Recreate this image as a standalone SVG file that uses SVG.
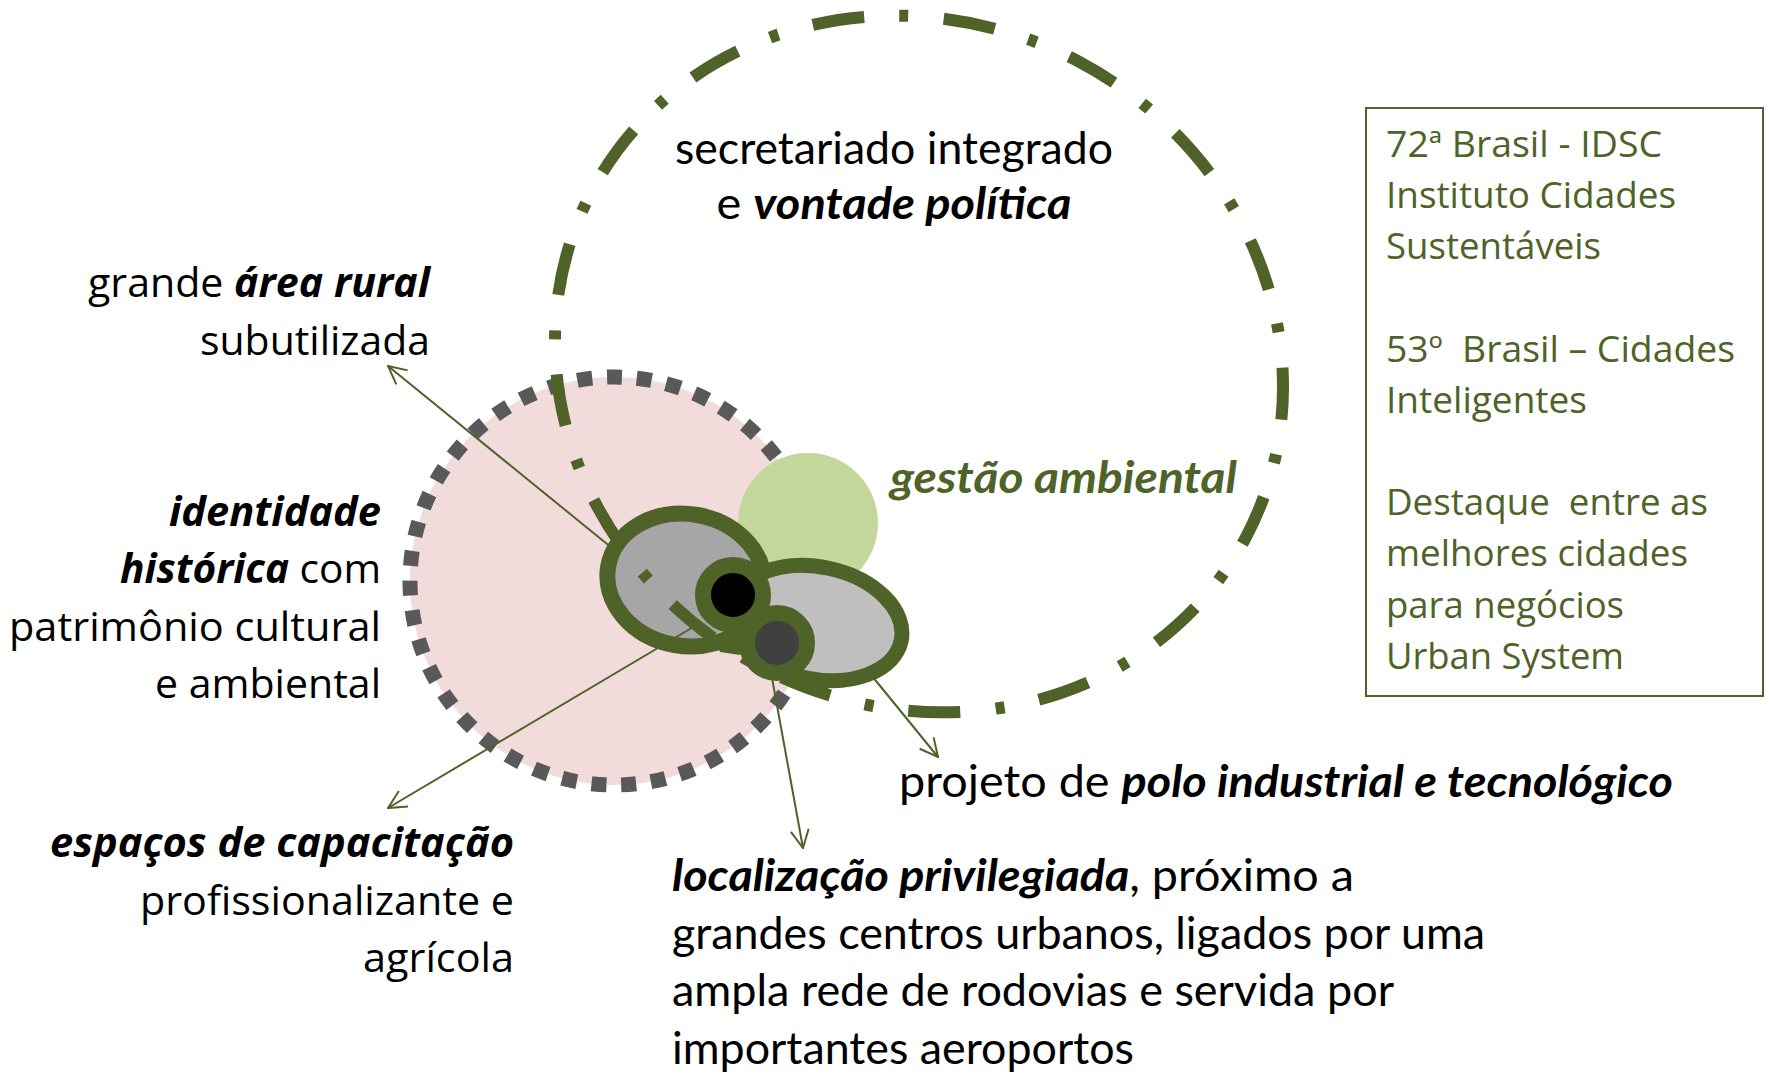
<svg xmlns="http://www.w3.org/2000/svg" width="1769" height="1076" viewBox="0 0 1769 1076">
<defs>
<style>
.t{font-family:"Lato","Liberation Sans",sans-serif;font-size:44px;fill:#000}
.s{font-family:"Open Sans","Noto Sans",sans-serif;font-size:41px;fill:#000}
.b{font-weight:bold;font-style:italic}
.gt{fill:#4F6228}
.box{font-family:"Open Sans","Noto Sans",sans-serif;font-size:36px;fill:#4F6228}
.conn{stroke:#4F6228;stroke-width:2;fill:none;marker-end:url(#arr)}
.ring{stroke:#4F6228;stroke-width:16}
.ell{stroke:#4F6228;stroke-width:16}
</style>
<marker id="arr" viewBox="0 0 20 20" markerWidth="20" markerHeight="20" refX="19" refY="10" orient="auto" markerUnits="userSpaceOnUse">
<path d="M1,1 L19,10 L1,19" fill="none" stroke="#4F6228" stroke-width="2"/>
</marker>
</defs>
<rect width="1769" height="1076" fill="#ffffff"/>

<g id="pink-area">
<circle cx="614" cy="581" r="204" fill="#F2DCDB" stroke="#595959" stroke-width="15" stroke-dasharray="15 14.81"/>
</g>
<g id="green-area">
<circle cx="808" cy="523" r="70" fill="#C4D79B"/>
</g>
<g id="ellipse-left">
<ellipse cx="686" cy="580" rx="79" ry="66" transform="rotate(10 686 580)" fill="#A6A6A6" class="ell"/>
</g>
<g id="big-circle">
<ellipse cx="919" cy="364" rx="370" ry="342" transform="rotate(28 919 364)" fill="none" stroke="#4F6228" stroke-width="12" stroke-dasharray="52 35 9 35.6" stroke-dashoffset="-86.6"/>
</g>
<g id="ellipse-right">
<polygon points="790,676 824,699 829,687 845,683" fill="#4F6228"/>
<ellipse cx="817" cy="623" rx="86" ry="56" transform="rotate(12 817 623)" fill="#BFBFBF" stroke="#4F6228" stroke-width="15"/>
<polygon points="713,638 740,627 753,640 740,655 720,652" fill="#4F6228"/>
</g>
<g id="ring-black">
<circle cx="733" cy="595" r="30" fill="#000000" class="ring"/>
</g>
<g id="ring-gray">
<circle cx="777" cy="643" r="30" fill="#404040" class="ring"/>
</g>

<g id="label-secretariado">
<text class="t" x="894" y="164" text-anchor="middle" textLength="438" lengthAdjust="spacingAndGlyphs">secretariado integrado</text>
<text class="t" x="894" y="219" text-anchor="middle" textLength="355" lengthAdjust="spacingAndGlyphs">e <tspan class="b">vontade política</tspan></text>
</g>
<g id="label-gestao">
<text class="t b gt" x="890" y="493" textLength="347" lengthAdjust="spacingAndGlyphs">gestão ambiental</text>
</g>
<g id="label-rural">
<text class="s" x="430" y="297" text-anchor="end" textLength="342" lengthAdjust="spacingAndGlyphs">grande <tspan class="b">área rural</tspan></text>
<text class="s" x="430" y="355" text-anchor="end" textLength="230" lengthAdjust="spacingAndGlyphs">subutilizada</text>
</g>
<g id="label-identidade">
<text class="s b" x="381" y="526" text-anchor="end" textLength="212" lengthAdjust="spacingAndGlyphs">identidade</text>
<text class="s" x="381" y="583" text-anchor="end" textLength="261" lengthAdjust="spacingAndGlyphs"><tspan class="b">histórica</tspan> com</text>
<text class="s" x="381" y="641" text-anchor="end" textLength="372" lengthAdjust="spacingAndGlyphs">patrimônio cultural</text>
<text class="s" x="381" y="698" text-anchor="end" textLength="226" lengthAdjust="spacingAndGlyphs">e ambiental</text>
</g>
<g id="label-espacos">
<text class="s b" x="514" y="857" text-anchor="end" textLength="464" lengthAdjust="spacingAndGlyphs">espaços de capacitação</text>
<text class="s" x="514" y="915" text-anchor="end" textLength="374" lengthAdjust="spacingAndGlyphs">profissionalizante e</text>
<text class="s" x="514" y="972" text-anchor="end" textLength="151" lengthAdjust="spacingAndGlyphs">agrícola</text>
</g>
<g id="label-polo">
<text class="t" x="899" y="797" textLength="774" lengthAdjust="spacingAndGlyphs">projeto de <tspan class="b">polo industrial e tecnológico</tspan></text>
</g>
<g id="label-localizacao">
<text class="t" x="672" y="891" textLength="682" lengthAdjust="spacingAndGlyphs"><tspan class="b">localização privilegiada</tspan>, próximo a</text>
<text class="t" x="672" y="949" textLength="813" lengthAdjust="spacingAndGlyphs">grandes centros urbanos, ligados por uma</text>
<text class="t" x="672" y="1006" textLength="722" lengthAdjust="spacingAndGlyphs">ampla rede de rodovias e servida por</text>
<text class="t" x="672" y="1064" textLength="462" lengthAdjust="spacingAndGlyphs">importantes aeroportos</text>
</g>
<g id="ranking-box">
<rect x="1366" y="108" width="397" height="588" fill="none" stroke="#4F6228" stroke-width="2"/>
<text class="box" x="1386" y="157" textLength="276" lengthAdjust="spacingAndGlyphs">72ª Brasil - IDSC</text>
<text class="box" x="1386" y="208" textLength="290" lengthAdjust="spacingAndGlyphs">Instituto Cidades</text>
<text class="box" x="1386" y="259" textLength="215" lengthAdjust="spacingAndGlyphs">Sustentáveis</text>
<text class="box" x="1386" y="362" textLength="349" lengthAdjust="spacingAndGlyphs" xml:space="preserve">53º  Brasil – Cidades</text>
<text class="box" x="1386" y="413" textLength="201" lengthAdjust="spacingAndGlyphs">Inteligentes</text>
<text class="box" x="1386" y="515" textLength="322" lengthAdjust="spacingAndGlyphs" xml:space="preserve">Destaque  entre as</text>
<text class="box" x="1386" y="566" textLength="302" lengthAdjust="spacingAndGlyphs">melhores cidades</text>
<text class="box" x="1386" y="618" textLength="238" lengthAdjust="spacingAndGlyphs">para negócios</text>
<text class="box" x="1386" y="669" textLength="238" lengthAdjust="spacingAndGlyphs">Urban System</text>
</g>

<g id="connectors">
<line class="conn" x1="612" y1="548" x2="388" y2="366"/>
<line class="conn" x1="700" y1="623" x2="388" y2="808"/>
<line class="conn" x1="772" y1="678" x2="803" y2="848"/>
<line class="conn" x1="872" y1="676" x2="938" y2="757"/>
</g>
</svg>
